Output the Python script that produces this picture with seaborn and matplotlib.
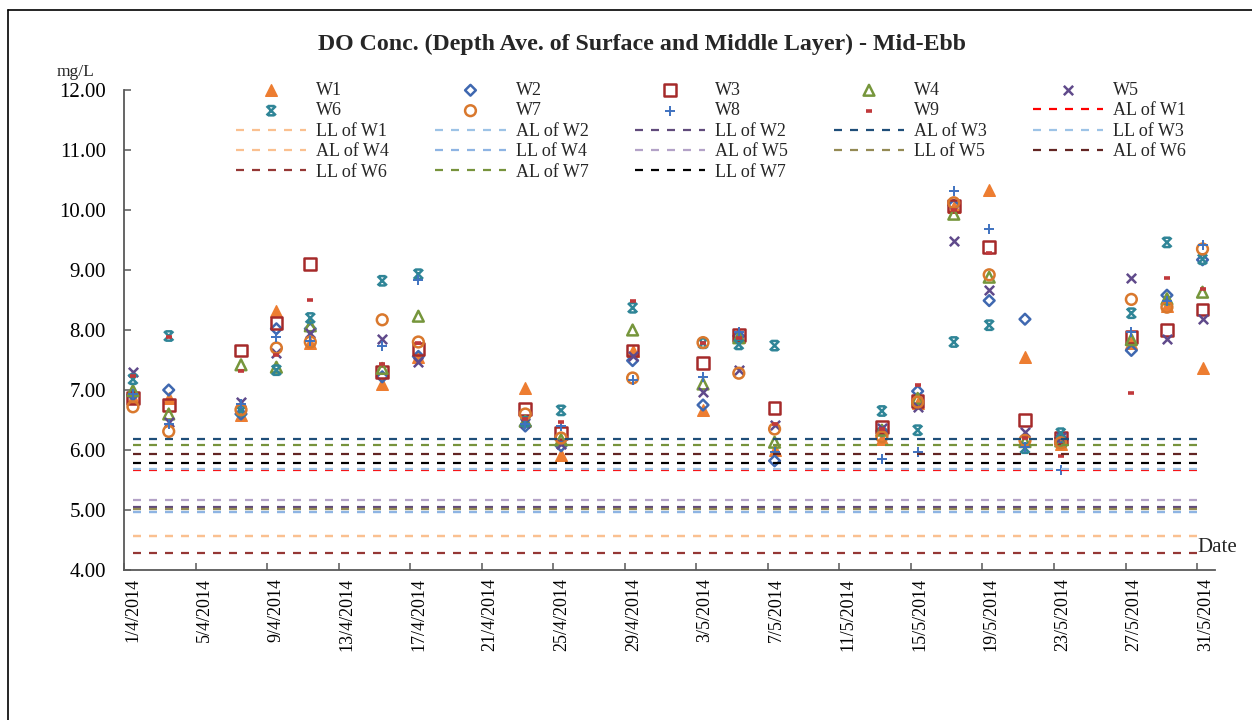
import matplotlib
matplotlib.use("Agg")
import matplotlib.pyplot as plt
from matplotlib.path import Path
from matplotlib.lines import Line2D
import seaborn as sns
import pandas as pd
import numpy as np

# ---------------- data ----------------
sample_times = ["2014-04-01 12:00", "2014-04-03 12:00", "2014-04-07 13:00", "2014-04-09 12:30",
                "2014-04-11 10:00", "2014-04-15 10:30", "2014-04-17 11:00", "2014-04-23 10:30",
                "2014-04-25 10:30", "2014-04-29 10:30", "2014-05-03 09:00", "2014-05-05 09:00",
                "2014-05-07 09:00", "2014-05-13 09:00", "2014-05-15 09:00", "2014-05-17 09:30",
                "2014-05-19 09:00", "2014-05-21 09:00", "2014-05-23 09:00", "2014-05-27 07:45",
                "2014-05-29 07:30", "2014-05-31 07:15"]

W1 = [6.86, 6.86, 6.58, 8.32, 7.78, 7.10, 7.55, 7.04, 5.92, 7.65, 6.66, 7.88, 6.00, 6.18, 6.78, 10.05, 10.34, 7.55, 6.10, 7.78, 8.40, 7.36]
W2 = [6.92, 7.00, 6.60, 8.02, 8.02, 7.22, 7.56, 6.40, 6.07, 7.49, 6.75, 7.90, 5.82, 6.32, 6.98, 10.08, 8.49, 8.18, 6.20, 7.66, 8.58, 9.17]
W3 = [6.87, 6.75, 7.66, 8.12, 9.10, 7.30, 7.68, 6.68, 6.28, 7.66, 7.45, 7.92, 6.70, 6.38, 6.82, 10.07, 9.38, 6.50, 6.20, 7.88, 8.00, 8.34]
W4 = [6.99, 6.60, 7.42, 7.38, 8.07, 7.36, 8.23, 6.48, 6.17, 8.00, 7.10, 7.87, 6.13, 6.33, 6.86, 9.93, 8.88, 6.14, 6.15, 7.84, 8.52, 8.63]
W5 = [7.30, 6.46, 6.80, 7.62, 7.95, 7.85, 7.47, 6.45, 6.10, 7.57, 6.97, 7.33, 6.42, 6.37, 6.71, 9.48, 8.66, 6.30, 6.22, 8.86, 7.85, 8.19]
W6 = [7.18, 7.90, 6.65, 7.33, 8.20, 8.82, 8.93, 6.47, 6.66, 8.37, 7.78, 7.76, 7.74, 6.65, 6.33, 7.80, 8.08, 6.03, 6.28, 8.28, 9.46, 9.18]
W7 = [6.72, 6.31, 6.67, 7.70, 7.80, 8.17, 7.80, 6.60, 6.20, 7.20, 7.79, 7.28, 6.35, 6.22, 6.80, 10.12, 8.92, 6.16, 6.12, 8.51, 8.38, 9.35]
W8 = [6.93, 6.43, 6.77, 7.88, 7.82, 7.74, 8.84, 6.44, 6.40, 7.17, 7.22, 7.97, 5.96, 5.85, 5.97, 10.32, 9.68, 6.05, 5.67, 7.97, 8.48, 9.42]
W9 = [7.23, 7.89, 7.32, 7.58, 8.50, 7.44, 7.78, 6.52, 6.46, 8.49, 7.78, 7.86, 6.44, 6.35, 7.09, 10.00, 9.28, 6.20, 5.90, 6.95, 8.86, 8.68]

stations = ["W1", "W2", "W3", "W4", "W5", "W6", "W7", "W8", "W9"]
station_values = [W1, W2, W3, W4, W5, W6, W7, W8, W9]

limit_labels = ["AL of W1", "LL of W1", "AL of W2", "LL of W2", "AL of W3", "LL of W3", "AL of W4",
                "LL of W4", "AL of W5", "LL of W5", "AL of W6", "LL of W6", "AL of W7", "LL of W7"]
limit_values = [5.66, 4.57, 5.69, 5.05, 6.19, 4.97, 4.57, 4.97, 5.17, 5.02, 5.94, 4.28, 6.08, 5.79]

y_ticks = [4.0, 5.0, 6.0, 7.0, 8.0, 9.0, 10.0, 11.0, 12.0]

# ---------------- styles ----------------
hourglass = Path([(-1, -1), (1, 1), (-1, 1), (1, -1), (-0.7, 1), (0.7, 1), (-0.7, -1), (0.7, -1)],
                 [Path.MOVETO, Path.LINETO, Path.MOVETO, Path.LINETO,
                  Path.MOVETO, Path.LINETO, Path.MOVETO, Path.LINETO])

st_style = {
    "W1": dict(marker="^", color="#ED7D31", filled=True, s=70, lw=1.0),
    "W2": dict(marker="D", color="#3F68B0", filled=False, s=30, lw=1.8),
    "W3": dict(marker="s", color="#A52A2A", filled=False, s=70, lw=1.8),
    "W4": dict(marker="^", color="#76963C", filled=False, s=60, lw=1.8),
    "W5": dict(marker="x", color="#604A8B", filled=None, s=45, lw=1.8),
    "W6": dict(marker=hourglass, color="#2F8597", filled=False, s=45, lw=1.8),
    "W7": dict(marker="o", color="#D9782D", filled=False, s=60, lw=1.8),
    "W8": dict(marker="+", color="#3F72C0", filled=None, s=55, lw=1.4),
    "W9": dict(marker="_", color="#C0393B", filled=None, s=22, lw=2.6),
}
limit_colors = ["#FF0000", "#FAC090", "#9DC3E6", "#604A7B", "#1F4E79", "#9DC3E6", "#FAC090",
                "#8EB4E3", "#B3A2C7", "#948A54", "#632523", "#953735", "#77933C", "#000000"]

sns.set_theme(style="white")
plt.rcParams["font.family"] = ["Liberation Serif", "DejaVu Serif"]

W, H = 1252, 720
fig = plt.figure(figsize=(W / 100, H / 100), dpi=100)
ax = fig.add_axes([124 / W, 150 / H, (1215 - 124) / W, 480 / H])

times = pd.to_datetime(pd.Series(sample_times))

for name, vals in zip(stations, station_values):
    st = st_style[name]
    df = pd.DataFrame({"time": times, "value": vals})
    if st["filled"] is True:
        sns.scatterplot(data=df, x="time", y="value", ax=ax, marker=st["marker"], s=st["s"],
                        color=st["color"], edgecolor=st["color"], linewidth=st["lw"], label=name, zorder=3)
    elif st["filled"] is False:
        sns.scatterplot(data=df, x="time", y="value", ax=ax, marker=st["marker"], s=st["s"],
                        facecolor="none", edgecolor=st["color"], linewidth=st["lw"], label=name, zorder=3)
    else:
        sns.scatterplot(data=df, x="time", y="value", ax=ax, marker=st["marker"], s=st["s"],
                        color=st["color"], linewidth=st["lw"], label=name, zorder=3)

for lab, val, col in zip(limit_labels, limit_values, limit_colors):
    ax.plot([times.iloc[0], times.iloc[-1]], [val, val], color=col, lw=1.6,
            linestyle=(0, (3.6, 3.6)), label=lab, zorder=3)

# ---------------- axes ----------------
day0 = times.iloc[0].normalize()
dayN = times.iloc[-1].normalize()
xticks = pd.date_range(day0, dayN, freq="4D")
ax.set_xlim(day0, dayN + pd.Timedelta(days=1))
ax.set_xticks(xticks)
ax.set_xticklabels([f"{d.day}/{d.month}/{d.year}" for d in xticks], rotation=90,
                   ha="left", fontsize=13, color="#000000")
ax.set_ylim(y_ticks[0], y_ticks[-1])
ax.set_yticks(y_ticks)
ax.set_yticklabels([f"{v:.2f}" for v in y_ticks], fontsize=15, color="#000000")
ax.set_xlabel("")
ax.set_ylabel("")
ax.tick_params(axis="both", direction="in", length=5, width=1.1, color="#595959")
ax.tick_params(axis="y", pad=13, left=True)
ax.tick_params(axis="x", pad=6, bottom=True)
for side in ["top", "right"]:
    ax.spines[side].set_visible(False)
for side in ["left", "bottom"]:
    ax.spines[side].set_color("#595959")
    ax.spines[side].set_linewidth(1.3)
ax.grid(False)
if ax.get_legend():
    ax.get_legend().remove()

# ---------------- legend (row-major order like the original) ----------------
handles, labels = ax.get_legend_handles_labels()
ncol = 5
order = []
for c in range(ncol):
    order.extend(range(c, len(handles), ncol))
leg = fig.legend([handles[i] for i in order], [labels[i] for i in order], ncol=ncol,
                 loc="upper left", bbox_to_anchor=(236 / W, 1 - 82 / H), frameon=False,
                 fontsize=13, handlelength=3.9, handletextpad=0.55, columnspacing=2.55,
                 labelspacing=0.19, borderpad=0.0, scatterpoints=1, borderaxespad=0)

# ---------------- texts ----------------
fig.text(642 / W, 1 - 44 / H, "DO Conc. (Depth Ave. of Surface and Middle Layer) - Mid-Ebb",
         ha="center", va="center", fontsize=17.2, fontweight="bold")
fig.text(57 / W, 1 - 72 / H, "mg/L", ha="left", va="center", fontsize=12.5)
fig.text(1197 / W, 1 - 548 / H, "Date", ha="left", va="center", fontsize=15)

# chart-area frame
fig.add_artist(Line2D([8 / W, 1.0], [1 - 10 / H, 1 - 10 / H], transform=fig.transFigure,
                      color="#000000", lw=1.2))
fig.add_artist(Line2D([8 / W, 8 / W], [1 - 10 / H, 0.0], transform=fig.transFigure,
                      color="#000000", lw=1.2))

fig.savefig("out.png", dpi=100)
